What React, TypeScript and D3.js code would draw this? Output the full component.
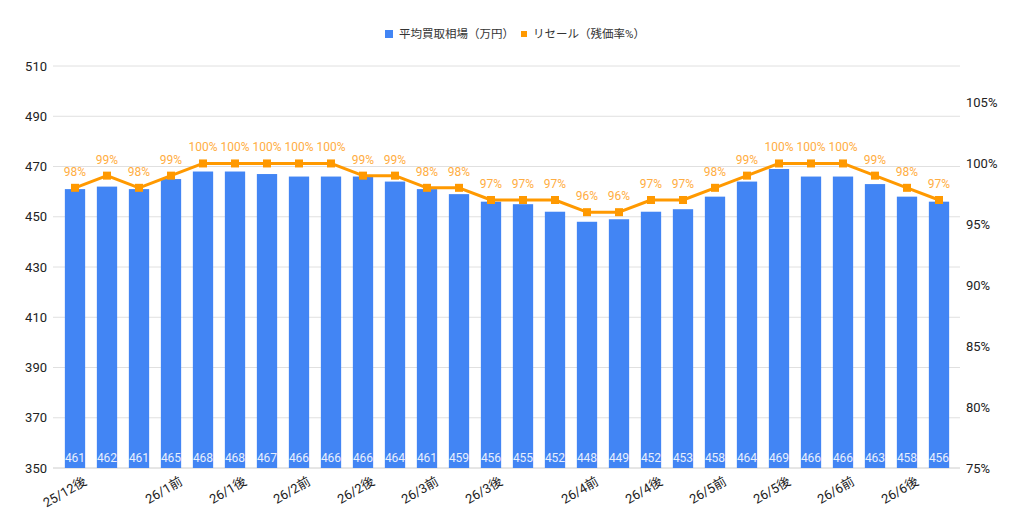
import * as d3 from "d3";
import { useEffect, useRef } from "react";

// 28 half-month periods; only some carry an axis label
const categories = [
  "25/12後", "", "", "26/1前", "", "26/1後", "", "26/2前", "", "26/2後",
  "", "26/3前", "", "26/3後", "", "", "26/4前", "", "26/4後", "",
  "26/5前", "", "26/5後", "", "26/6前", "", "26/6後", "",
];
const avgPrice = [
  461, 462, 461, 465, 468, 468, 467, 466, 466, 466, 464, 461, 459, 456,
  455, 452, 448, 449, 452, 453, 458, 464, 469, 466, 466, 463, 458, 456,
];
const resaleRate = [
  98, 99, 98, 99, 100, 100, 100, 100, 100, 99, 99, 98, 98, 97,
  97, 97, 96, 96, 97, 97, 98, 99, 100, 100, 100, 99, 98, 97,
];
const leftTicks = [350, 370, 390, 410, 430, 450, 470, 490, 510];
const rightTicks = [75, 80, 85, 90, 95, 100, 105];
const seriesNames = ["平均買取相場（万円）", "リセール（残価率%）"];

const BLUE = "#4285f4";
const ORANGE = "#ff9900";
const FONT = "Roboto, 'Noto Sans CJK JP', sans-serif";

const App = () => {
  const ref = useRef<SVGSVGElement>(null);

  useEffect(() => {
    const W = 1024, H = 529;
    const margin = { top: 66, right: 69, bottom: 61, left: 59 };
    const width = W - margin.left - margin.right;
    const height = H - margin.top - margin.bottom;

    const root = d3.select(ref.current);
    root.selectAll("*").remove();
    const svg = root
      .append("g")
      .attr("transform", `translate(${margin.left},${margin.top})`)
      .style("font-family", FONT);

    const idx = d3.range(categories.length);
    const x = d3
      .scaleBand<number>()
      .domain(idx)
      .range([0, width])
      .paddingInner(0.366)
      .paddingOuter(0.183);
    const y = d3.scaleLinear().domain([350, 510]).range([height, 0]);
    const y2 = d3.scaleLinear().domain([75, 108]).range([height, 0]);

    // gridlines
    svg
      .append("g")
      .selectAll("line")
      .data(leftTicks)
      .join("line")
      .attr("x1", -6)
      .attr("x2", width + 5)
      .attr("y1", (d) => y(d))
      .attr("y2", (d) => y(d))
      .attr("stroke", (d) => (d === 350 ? "#cccccc" : "#e0e0e0"))
      .attr("stroke-width", 1);

    // left axis labels
    svg
      .append("g")
      .selectAll("text")
      .data(leftTicks)
      .join("text")
      .attr("x", -12)
      .attr("y", (d) => y(d))
      .attr("dy", "0.35em")
      .attr("text-anchor", "end")
      .style("font-size", "13px")
      .attr("fill", "#222")
      .text((d) => d);

    // right axis labels
    svg
      .append("g")
      .selectAll("text")
      .data(rightTicks)
      .join("text")
      .attr("x", width + 11)
      .attr("y", (d) => y2(d))
      .attr("dy", "0.35em")
      .attr("text-anchor", "start")
      .style("font-size", "13px")
      .attr("fill", "#222")
      .text((d) => `${d}%`);

    // bars
    svg
      .append("g")
      .selectAll("rect")
      .data(avgPrice)
      .join("rect")
      .attr("x", (_, i) => x(i)!)
      .attr("y", (d) => y(d))
      .attr("width", x.bandwidth())
      .attr("height", (d) => height - y(d))
      .attr("fill", BLUE);

    // bar value labels
    svg
      .append("g")
      .selectAll("text")
      .data(avgPrice)
      .join("text")
      .attr("x", (_, i) => x(i)! + x.bandwidth() / 2)
      .attr("y", height - 6)
      .attr("text-anchor", "middle")
      .style("font-size", "12px")
      .attr("fill", "#e8effd")
      .text((d) => d);

    // resale line
    const cx = (i: number) => x(i)! + x.bandwidth() / 2;
    const line = d3
      .line<number>()
      .x((_, i) => cx(i))
      .y((d) => y2(d));
    svg
      .append("path")
      .datum(resaleRate)
      .attr("d", line)
      .attr("fill", "none")
      .attr("stroke", ORANGE)
      .attr("stroke-width", 3)
      .attr("stroke-linejoin", "round");

    svg
      .append("g")
      .selectAll("rect")
      .data(resaleRate)
      .join("rect")
      .attr("x", (_, i) => cx(i) - 4)
      .attr("y", (d) => y2(d) - 4)
      .attr("width", 8)
      .attr("height", 8)
      .attr("fill", ORANGE);

    svg
      .append("g")
      .selectAll("text")
      .data(resaleRate)
      .join("text")
      .attr("x", (_, i) => cx(i))
      .attr("y", (d) => y2(d) - 12)
      .attr("text-anchor", "middle")
      .style("font-size", "12px")
      .attr("fill", "#ffad42")
      .text((d) => `${d}%`);

    // x labels
    svg
      .append("g")
      .selectAll("text")
      .data(idx.filter((i) => categories[i] !== ""))
      .join("text")
      .attr(
        "transform",
        (i) => `translate(${cx(i) + 8},${height + 8}) rotate(-30)`
      )
      .attr("dy", "0.71em")
      .attr("text-anchor", "end")
      .style("font-size", "13px")
      .attr("fill", "#222")
      .text((i) => categories[i]);

    // legend
    const legend = root.append("g").style("font-family", FONT);
    const items = [
      { name: seriesNames[0], color: BLUE, cx: 389, size: 8, tx: 399 },
      { name: seriesNames[1], color: ORANGE, cx: 524, size: 6, tx: 533 },
    ];
    items.forEach((it) => {
      legend
        .append("rect")
        .attr("x", it.cx - it.size / 2)
        .attr("y", 34 - it.size / 2)
        .attr("width", it.size)
        .attr("height", it.size)
        .attr("fill", it.color);
      legend
        .append("text")
        .attr("x", it.tx)
        .attr("y", 34)
        .attr("dy", "0.35em")
        .style("font-size", "11.5px")
        .attr("fill", "#333")
        .text(it.name);
    });
  }, []);

  return (
    <svg
      ref={ref}
      width={1024}
      height={529}
      style={{ position: "absolute", left: 0, top: 0, background: "#fff" }}
    />
  );
};

export default App;
